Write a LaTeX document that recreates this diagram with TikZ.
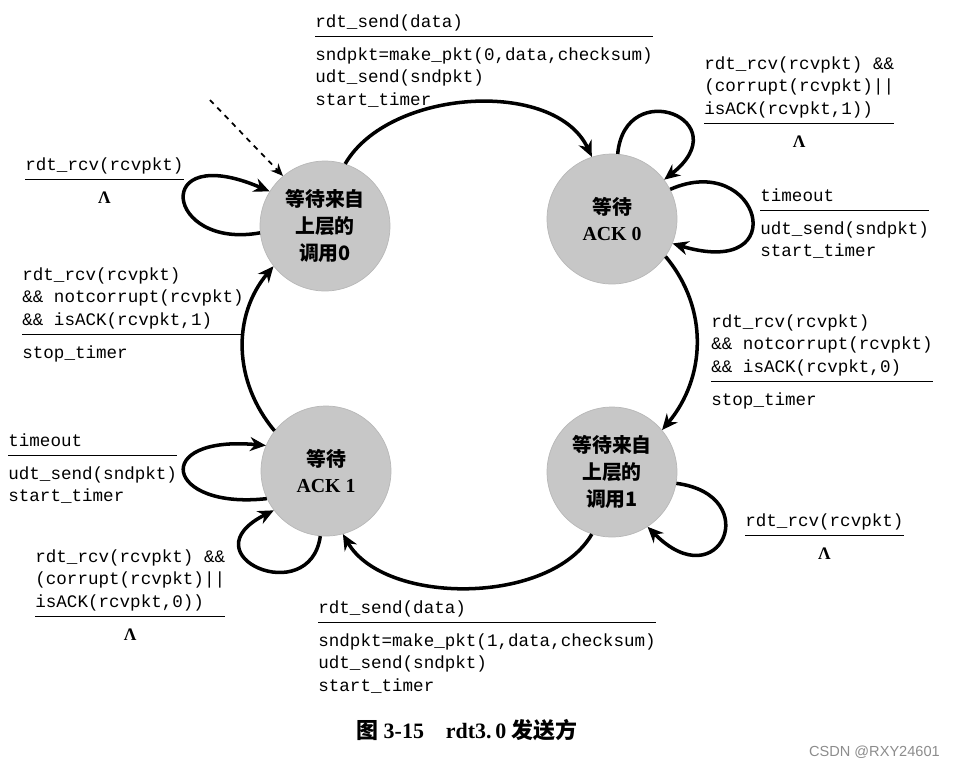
\documentclass[tikz,border=0pt]{standalone}
\usepackage{fontspec}
\setmainfont{Liberation Serif}
\setmonofont{Liberation Mono}
\setsansfont{Liberation Sans}
\newfontfamily\cjk{Noto Sans CJK SC}
\usetikzlibrary{arrows.meta}
\setlength{\arrayrulewidth}{1pt}
% guarda / raya / acciones
\newcommand{\trans}[2]{\begin{tabular}{@{}l@{}}#1\\[1pt]\hline\noalign{\vskip 4pt}#2\end{tabular}}
\newcommand{\nada}{\multicolumn{1}{c}{\rmfamily\bfseries Λ}}

\begin{document}
\begin{tikzpicture}[x=0.02cm, y=0.02cm,
    waitstate/.style={circle, fill=black!22, draw=black!28, minimum size=2.6cm,
        inner sep=0pt, align=center, font=\fontsize{11.3}{15.3}\selectfont\bfseries},
    cjkstate/.style={waitstate, font=\fontsize{11.3}{15.3}\selectfont\bfseries\cjk},
    trlabel/.style={anchor=north west, inner sep=0pt,
        font=\fontsize{10}{12.8}\selectfont\ttfamily},
    flecha/.style={line width=2pt, -{Stealth[length=9pt, width=8pt]}}]
    \useasboundingbox (0,0) rectangle (960,-769);

    % ---- Estados ----
    \node[cjkstate]  (wait0) at (325,-226) {等待来自\\上层的\\调用0};
    \node[waitstate] (ack0)  at (612,-219) {{\cjk 等待}\\ACK 0};
    \node[waitstate] (ack1)  at (326,-471) {{\cjk 等待}\\ACK 1};
    \node[cjkstate]  (wait1) at (612,-472) {等待来自\\上层的\\调用1};

    % ---- Estado inicial ----
    \coordinate (inicio) at (210,-100);
    \draw[dashed, line width=1pt, -{Stealth[length=7pt, width=6pt]}] (inicio) -- (wait0.130);

    % ---- Transiciones entre estados ----
    \draw[flecha] (wait0.72) to[out=60, in=115, looseness=0.9] (ack0.108);
    \draw[flecha] (ack0.-35) to[out=-50, in=50] (wait1.40);
    \draw[flecha] (wait1.-108) to[out=-120, in=-60, looseness=0.85] (ack1.-75);
    \draw[flecha] (ack1.142) to[out=130, in=-130] (wait0.-142);

    % ---- Lazos ----
    \draw[flecha] (wait0.186) .. controls (165,-250) and (150,-140) .. (wait0.148);
    \draw[flecha] (ack0.85) .. controls (625,-75) and (740,-120) .. (ack0.37);
    \draw[flecha] (ack0.27) .. controls (760,-150) and (795,-280) .. (ack0.-22);
    \draw[flecha] (ack1.205) .. controls (165,-510) and (150,-435) .. (ack1.157);
    \draw[flecha] (ack1.-95) .. controls (310,-610) and (185,-555) .. (ack1.217);
    \draw[flecha] (wait1.-10) .. controls (765,-495) and (720,-600) .. (wait1.-57);

    % ---- Etiquetas ----
    \node[trlabel] (lblA) at (315,-11)
        {\trans{rdt\_send(data)}{sndpkt=make\_pkt(0,data,checksum)\\udt\_send(sndpkt)\\start\_timer}};
    \node[trlabel] (lblB) at (704,-53)
        {\trans{rdt\_rcv(rcvpkt) \&\&\\(corrupt(rcvpkt)||\\isACK(rcvpkt,1))}{\nada}};
    \node[trlabel] (lblC) at (760,-185)
        {\trans{timeout}{udt\_send(sndpkt)\\start\_timer}};
    \node[trlabel] (lblD) at (711,-311)
        {\trans{rdt\_rcv(rcvpkt)\\\&\& notcorrupt(rcvpkt)\\\&\& isACK(rcvpkt,0)}{stop\_timer}};
    \node[trlabel] (lblE) at (745,-510)
        {\trans{rdt\_rcv(rcvpkt)}{\nada}};
    \node[trlabel] (lblF) at (318,-597)
        {\trans{rdt\_send(data)}{sndpkt=make\_pkt(1,data,checksum)\\udt\_send(sndpkt)\\start\_timer}};
    \node[trlabel] (lblG) at (35,-546)
        {\trans{rdt\_rcv(rcvpkt) \&\&\\(corrupt(rcvpkt)||\\isACK(rcvpkt,0))}{\nada}};
    \node[trlabel] (lblH) at (8,-430)
        {\trans{timeout}{udt\_send(sndpkt)\\start\_timer}};
    \node[trlabel] (lblI) at (22,-264)
        {\trans{rdt\_rcv(rcvpkt)\\\&\& notcorrupt(rcvpkt)\\\&\& isACK(rcvpkt,1)}{stop\_timer}};
    \node[trlabel] (lblJ) at (25,-154)
        {\trans{rdt\_rcv(rcvpkt)}{\nada}};

    % ---- Pie ----
    \node[font=\fontsize{12.5}{15}\selectfont\bfseries] (caption) at (467,-730)
        {{\cjk 图}~3-15\quad rdt3.\,0~{\cjk 发送方}};
    \node[anchor=east, font=\sffamily\fontsize{8.3}{10}\selectfont, text=black!45] (marca)
        at (946,-752) {CSDN @RXY24601};
\end{tikzpicture}
\end{document}
